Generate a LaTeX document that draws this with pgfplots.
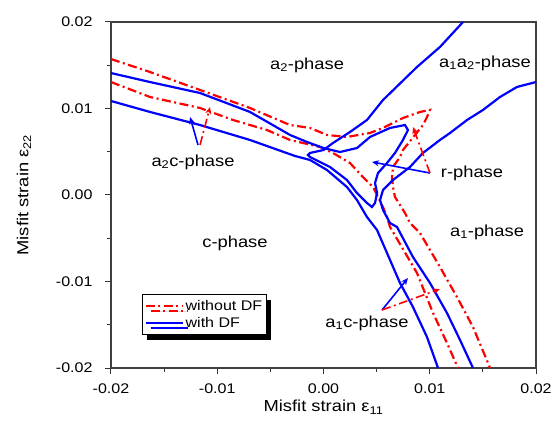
\documentclass[border=0pt]{standalone}
\usepackage{fontspec}
\setmainfont{Liberation Sans}[FakeStretch=1.15]
\usepackage{pgfplots}
\pgfplotsset{compat=1.18}
\usetikzlibrary{arrows.meta,shadows}

\tikzset{
  noDF/.style={red, line width=2.2bp, dash pattern=on 9bp off 3.5bp on 2bp off 3.5bp},
  withDF/.style={blue, line width=2.2bp},
}
\newcommand\legfont{\fontsize{14}{16}\selectfont}

\begin{document}
\begin{tikzpicture}
\useasboundingbox (-111bp,-65bp) rectangle (445bp,368bp);
\begin{axis}[
  scale only axis, width=425bp, height=346bp,
  at={(0,0)}, anchor=south west,
  xmin=-0.02, xmax=0.02, ymin=-0.02, ymax=0.02,
  xtick={-0.02,-0.01,0,0.01,0.02}, ytick={-0.02,-0.01,0,0.01,0.02},
  minor tick num=1,
  scaled ticks=false,
  tick align=outside, tick pos=left,
  major tick length=6bp, minor tick length=4bp,
  tick style={black!80, line width=1bp},
  axis line style={black!75, line width=1.3bp},
  /pgf/number format/fixed,
  /pgf/number format/fixed zerofill,
  /pgf/number format/precision=2,
  /pgf/number format/assume math mode=true,
  ticklabel style={font=\fontsize{14}{16}\selectfont},
  xticklabel style={yshift=-6bp},
  yticklabel style={xshift=-9bp},
  xlabel={Misfit strain ε\textsubscript{11}},
  ylabel={Misfit strain ε\textsubscript{22}},
  ylabel shift=18bp,
  label style={font=\fontsize{16}{18}\selectfont},
  legend style={at={(0.073,0.095)}, anchor=south west, draw=black, line width=0.8bp,
    fill=white,
    drop shadow={shadow xshift=5bp, shadow yshift=-5bp, fill=black, opacity=1},
    inner xsep=2bp, inner ysep=4bp, row sep=1bp},
  legend cell align=left,
  legend image code/.code={\draw[#1] (0bp,0bp) -- (37bp,0bp);},
]

% without DF, outer boundary (upper left -> r corner -> bottom right)
\addplot[noDF, forget plot] coordinates {
(-0.0200,0.01572) (-0.01633,0.01422) (-0.01162,0.01214) (-0.00692,0.01006)
(-0.00315,0.00809) (-0.00127,0.00775) (0.00033,0.00694) (0.00221,0.00671)
(0.00438,0.00717) (0.00560,0.00775) (0.00748,0.00890) (0.00908,0.00960)
(0.01002,0.00983) (0.00974,0.00901) (0.00936,0.00809) (0.00748,0.00520)
(0.00720,0.00439) (0.00654,0.00324) (0.00645,0.00208) (0.00654,0.00092)
(0.00673,-0.00023) (0.00767,-0.00208) (0.00814,-0.00324) (0.00908,-0.00439)
(0.01096,-0.00832) (0.01256,-0.01179) (0.01407,-0.01526) (0.01548,-0.01942)
(0.01567,-0.0200)};

% without DF, inner boundary
\addplot[noDF, forget plot] coordinates {
(-0.0200,0.01306) (-0.01633,0.01133) (-0.01162,0.01006) (-0.00851,0.00867)
(-0.00532,0.00751) (-0.00315,0.00636) (-0.00193,0.00601) (-0.00033,0.00555)
(0.00089,0.00486) (0.00249,0.00370) (0.00371,0.00208) (0.00466,0.00092)
(0.00560,-0.00139) (0.00598,-0.00254) (0.00626,-0.00370) (0.00880,-0.00902)
(0.01031,-0.01364) (0.01162,-0.01711) (0.01266,-0.0200)};

% with DF, upper left line, r-phase loop and line to the top
\addplot[withDF, forget plot] coordinates {
(-0.0200,0.01410) (-0.01633,0.01306) (-0.01162,0.01179) (-0.00692,0.00960)
(-0.00315,0.00694) (-0.00155,0.00613) (0.00000,0.00543) (0.00155,0.00497)
(0.00315,0.00543) (0.00438,0.00671) (0.00626,0.00775) (0.00767,0.00809)
(0.00795,0.00751) (0.00748,0.00636) (0.00673,0.00486) (0.00598,0.00370)
(0.00513,0.00254) (0.00485,0.00139) (0.00504,0.00023) (0.00485,-0.00092)
(0.00456,-0.00139) (0.00409,-0.00092) (0.00315,0.00023) (0.00221,0.00173)
(0.00061,0.00324) (-0.00127,0.00439) (-0.00146,0.00462) (-0.00127,0.00486)
(0.00000,0.00520) (0.00089,0.00601) (0.00249,0.00728) (0.00409,0.00867)
(0.00560,0.01098) (0.00880,0.01480) (0.01096,0.01711) (0.01313,0.0200)};

% with DF, lower left line down to the bottom
\addplot[withDF, forget plot] coordinates {
(-0.0200,0.01087) (-0.01633,0.00960) (-0.01162,0.00809) (-0.00692,0.00636)
(-0.00268,0.00451) (-0.00127,0.00405) (0.00033,0.00289) (0.00221,0.00092)
(0.00315,-0.00058) (0.00409,-0.00254) (0.00504,-0.00405) (0.00626,-0.00751)
(0.00720,-0.01017) (0.00842,-0.01295) (0.00974,-0.01642) (0.01078,-0.0200)};

% with DF, right line
\addplot[withDF, forget plot] coordinates {
(0.0200,0.01306) (0.01821,0.01249) (0.01661,0.01133) (0.01501,0.00983)
(0.01351,0.00867) (0.01191,0.00717) (0.01096,0.00636) (0.00936,0.00486)
(0.00814,0.00324) (0.00654,0.00173) (0.00560,0.00058) (0.00532,-0.00058)
(0.00560,-0.00173) (0.00626,-0.00324) (0.00692,-0.00370) (0.00842,-0.00717)
(0.01002,-0.01017) (0.01162,-0.01364) (0.01285,-0.01676) (0.01407,-0.0200)};

% pointer arrows
\addplot[blue, line width=1.6bp, -{Stealth[length=7bp,width=6bp]}, forget plot]
  coordinates {(-0.01181,0.00578) (-0.01256,0.00902)};
\addplot[noDF, line width=1.6bp, -{Stealth[length=7bp,width=6bp]}, forget plot]
  coordinates {(-0.01162,0.00578) (-0.01068,0.01017)};
\addplot[blue, line width=1.6bp, -{Stealth[length=7bp,width=6bp]}, forget plot]
  coordinates {(0.01002,0.00254) (0.00456,0.00382)};
\addplot[noDF, line width=1.6bp, -{Stealth[length=7bp,width=6bp]}, forget plot]
  coordinates {(0.01002,0.00254) (0.00842,0.00786)};
\addplot[blue, line width=1.6bp, -{Stealth[length=7bp,width=6bp]}, forget plot]
  coordinates {(0.00551,-0.01329) (0.00795,-0.00960)};
\addplot[noDF, line width=1.6bp, -{Stealth[length=7bp,width=6bp]}, forget plot]
  coordinates {(0.00551,-0.01329) (0.01096,-0.01087)};

\addlegendimage{noDF}
\addlegendentry{\legfont without DF}
\addlegendimage{withDF}
\addlegendentry{\legfont with DF}

\begin{scope}[every node/.style={font=\fontsize{16}{18}\selectfont}]
\node at (axis cs:-0.00155,0.01503) {a\textsubscript{2}-phase};
\node at (axis cs:0.01520,0.01526) {a\textsubscript{1}a\textsubscript{2}-phase};
\node at (axis cs:-0.01228,0.00382) {a\textsubscript{2}c-phase};
\node at (axis cs:0.01398,0.00254) {r-phase};
\node at (axis cs:0.01539,-0.00428) {a\textsubscript{1}-phase};
\node at (axis cs:-0.00833,-0.00555) {c-phase};
\node at (axis cs:0.00409,-0.01480) {a\textsubscript{1}c-phase};
\end{scope}
\end{axis}
\end{tikzpicture}
\end{document}
